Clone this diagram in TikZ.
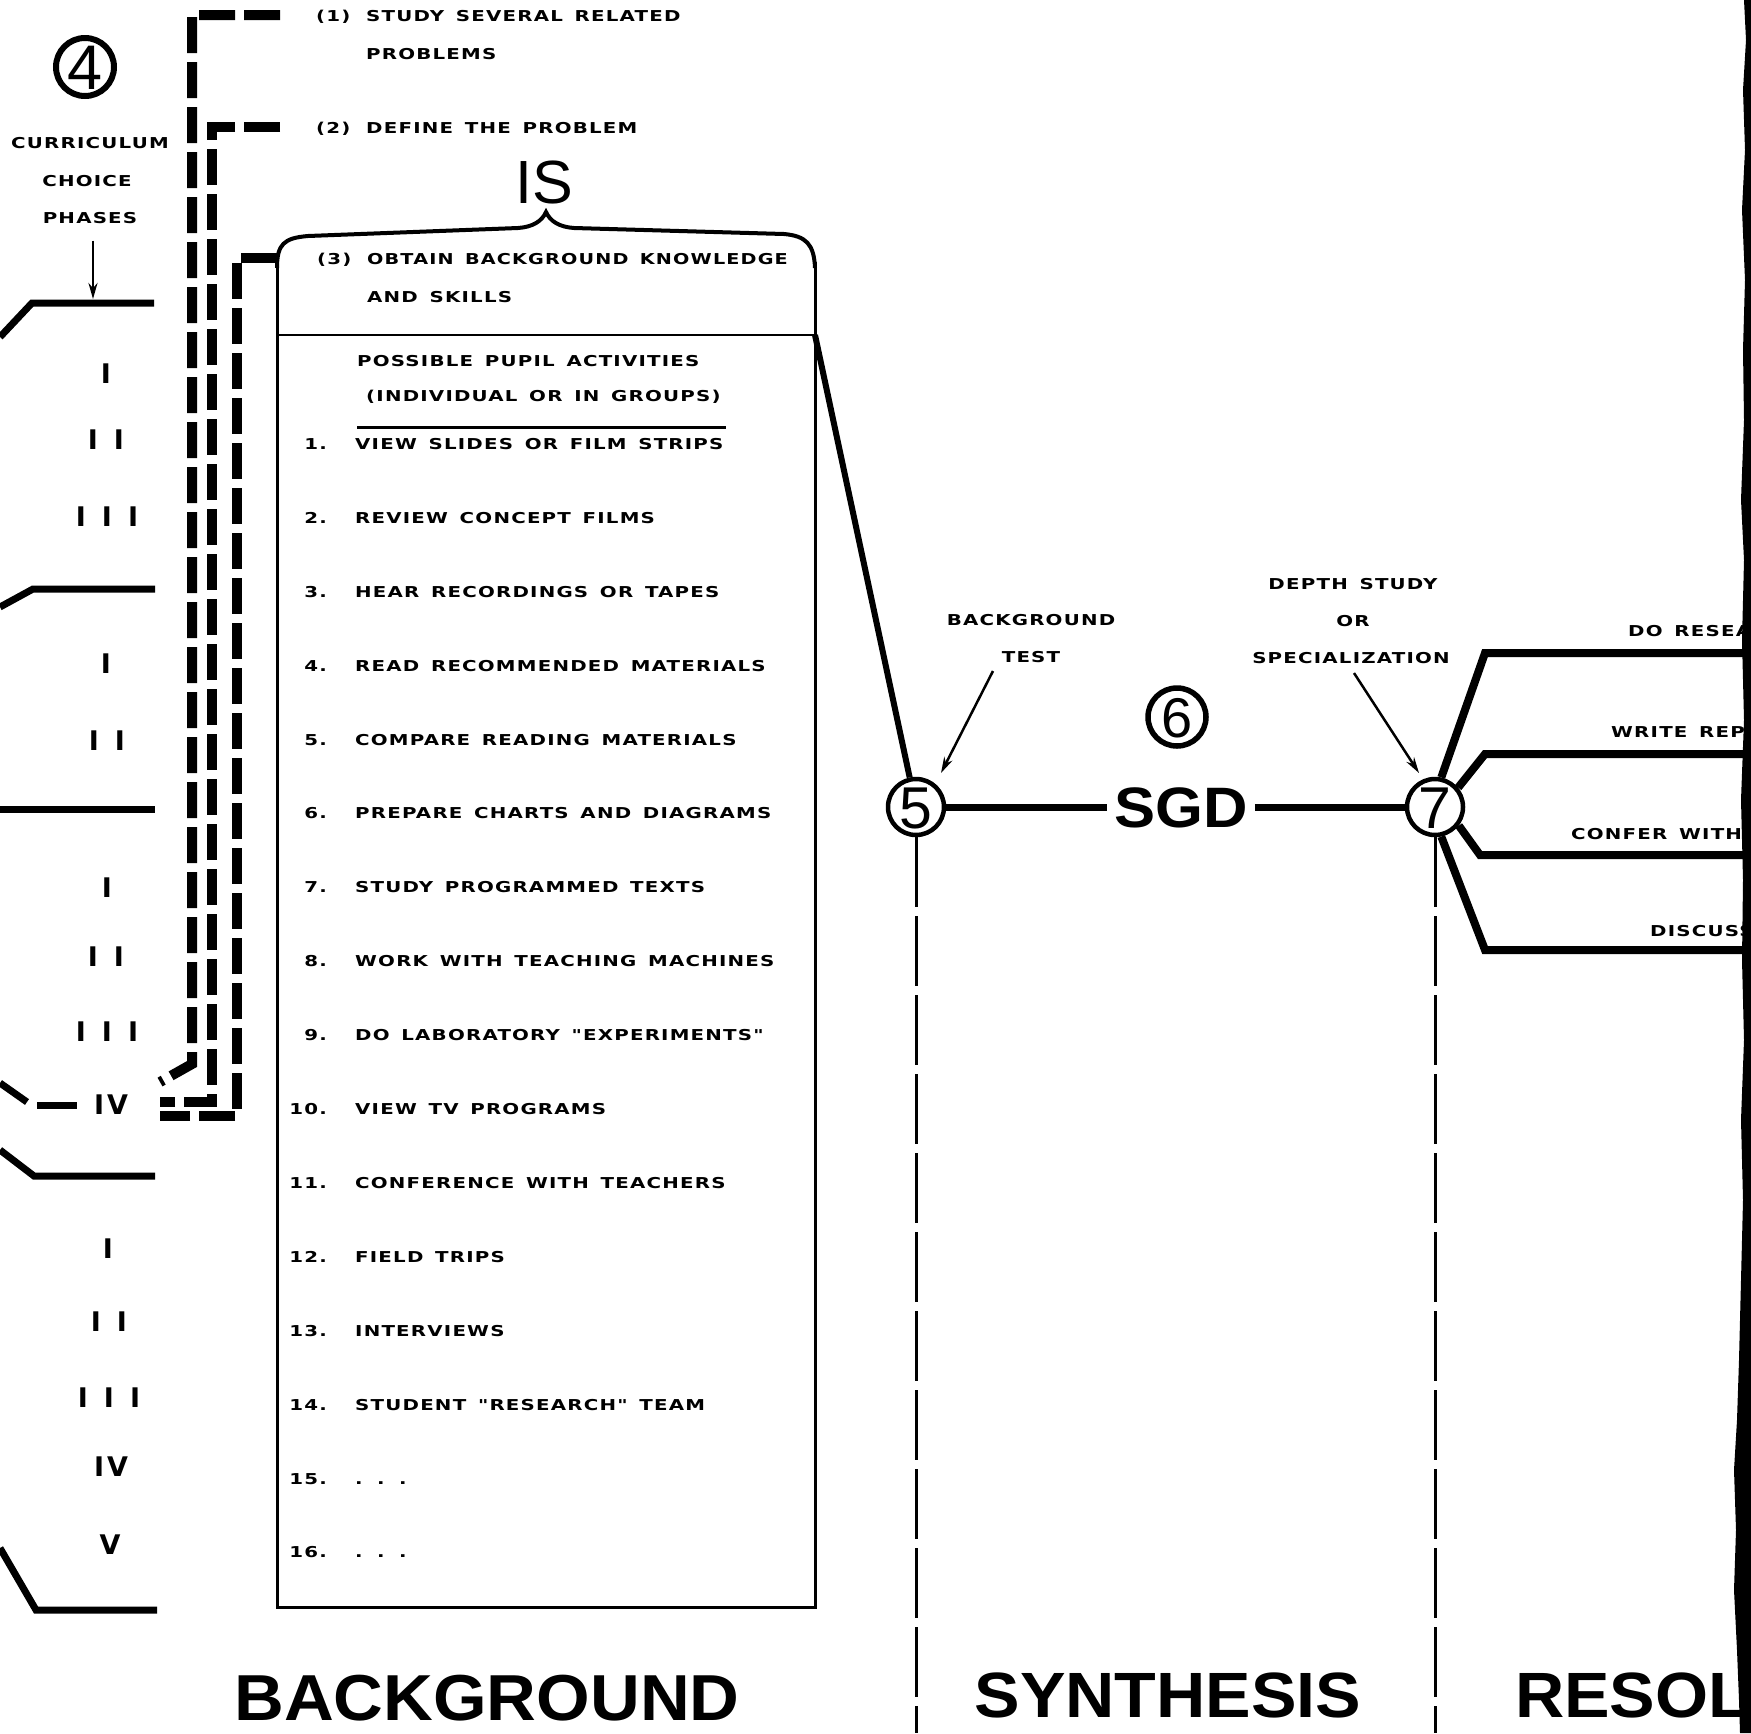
\documentclass[tikz,border=0pt]{standalone}
\usepackage{fontspec}
\usepackage{graphicx}
\usetikzlibrary{arrows.meta}
\newfontfamily\lblfont[FakeStretch=1.32,LetterSpace=8,WordSpace=1.45]{DejaVu Sans}
\newfontfamily\romfont{DejaVu Sans}
\newfontfamily\helv{Liberation Sans}
\begin{document}
\begin{tikzpicture}[x=1pt,y=-1pt,
  lbl/.style={font=\lblfont\bfseries\fontsize{15}{18}\selectfont, inner sep=0pt, text height=10.9pt, text depth=0pt},
  rom/.style={font=\romfont\bfseries\fontsize{27}{30}\selectfont, inner sep=0pt, text height=19.7pt, text depth=0pt},
  bigt/.style={font=\helv\bfseries\fontsize{65}{70}\selectfont, inner sep=0pt, text height=46.5pt, text depth=0pt},
  ring/.style={circle, draw, line width=4.5pt, inner sep=0pt, minimum size=56pt, font=\helv\fontsize{59}{62}\selectfont, text height=42pt, text depth=0pt},
  heavy/.style={line width=7pt},
  phase/.style={line width=7pt, line join=miter},
  branch/.style={line width=8pt, line join=miter},
  dashcol/.style={line width=10pt, dash pattern=on 36pt off 9pt},
  split/.style={line width=3pt, dash pattern=on 70pt off 9pt},
  pointer/.style={line width=2.5pt, -{Stealth[length=16pt,width=9pt]}},
]
\useasboundingbox (0,0) rectangle (1751,1733);
\fill[white] (0,0) rectangle (1751,1733);

% ---------- circle 4 and curriculum choice phases ----------
\node[ring, minimum size=58pt, line width=6pt, font=\helv\fontsize{63}{66}\selectfont, text height=45pt] (c4) at (85,67) {4};
\node[lbl] (cur) at (90,143) {CURRICULUM};
\node[lbl] (cho) at (87,181) {CHOICE};
\node[lbl] (pha) at (90,218) {PHASES};
\coordinate (ph1) at (93,299);
\draw[pointer] ([xshift=3pt,yshift=-17pt]pha.south) -- (ph1);

\draw[phase] (0,337) -- (32,303) -- (154,303);
\draw[phase] (0,607) -- (33,589) -- (155,589);
\draw[phase] (0,809) -- (155,809);
\draw[phase] (0,1083) -- (27,1102);
\draw[phase] (37,1105) -- (77,1105);
\draw[phase] (0,1150) -- (34,1176) -- (155,1176);
\draw[phase] (0,1548) -- (36,1610) -- (157,1610);

\node[rom] (r11) at (106,374) {I};
\node[rom] (r12) at (106,440) {I\hspace{16pt}I};
\node[rom] (r13) at (107,517) {I\hspace{16pt}I\hspace{16pt}I};
\node[rom] (r21) at (106,664) {I};
\node[rom] (r22) at (107,741) {I\hspace{16pt}I};
\node[rom] (r31) at (107,888) {I};
\node[rom] (r32) at (106,957) {I\hspace{16pt}I};
\node[rom] (r33) at (107,1032) {I\hspace{16pt}I\hspace{16pt}I};
\node[rom] (r34) at (111,1105) {I\hspace{3pt}V};
\node[rom] (r41) at (108,1249) {I};
\node[rom] (r42) at (109,1322) {I\hspace{16pt}I};
\node[rom] (r43) at (109,1398) {I\hspace{16pt}I\hspace{16pt}I};
\node[rom] (r44) at (111,1467) {I\hspace{3pt}V};
\node[rom] (r45) at (110,1545) {V};

% ---------- dashed lines from the steps to phase IV ----------
\draw[dashcol] (280,15) -- (192,15) -- (192,1064) -- (160,1082);
\draw[dashcol] (280,127) -- (212,127) -- (212,1102) -- (160,1102);
\draw[dashcol] (277,258) -- (237,258) -- (237,1116) -- (160,1116);

% ---------- steps ----------
\node[lbl, anchor=west] (p1n) at (316,16) {(1)};
\node[lbl, anchor=west] (p1) at (366,16) {STUDY SEVERAL RELATED};
\node[lbl, anchor=west] (p1b) at (366,54) {PROBLEMS};
\node[lbl, anchor=west] (p2n) at (316,128) {(2)};
\node[lbl, anchor=west] (p2) at (366,128) {DEFINE THE PROBLEM};
\node[font=\helv\fontsize{61}{64}\selectfont, inner sep=0pt, text height=43.7pt, text depth=0pt] (is) at (544,182) {IS};

% box with brace top
\draw[line width=3pt] (277,262) -- (277,1607) -- (815,1607) -- (815,262);
\draw[line width=4pt] (277,268) .. controls (277,244) and (284,238) .. (308,236) -- (518,228)
  .. controls (533,227) and (542,221) .. (546,212)
  .. controls (550,221) and (559,227) .. (574,228) -- (784,234)
  .. controls (806,236) and (814,244) .. (815,268);
\draw[line width=2.5pt] (277,335) -- (815,335);
\draw[line width=3pt] (357,427) -- (726,427);

\node[lbl, anchor=west] (p3n) at (317,259) {(3)};
\node[lbl, anchor=west] (p3) at (367,259) {\scalebox{0.97}[1]{OBTAIN BACKGROUND KNOWLEDGE}};
\node[lbl, anchor=west] (p3b) at (367,297) {AND SKILLS};
\node[lbl, anchor=west] (h1) at (357,361) {POSSIBLE PUPIL ACTIVITIES};
\node[lbl, anchor=west] (h2) at (366,396) {(INDIVIDUAL OR IN GROUPS)};

\foreach \k/\t in {1/VIEW SLIDES OR FILM STRIPS,2/REVIEW CONCEPT FILMS,3/HEAR RECORDINGS OR TAPES,
  4/READ RECOMMENDED MATERIALS,5/COMPARE READING MATERIALS,6/PREPARE CHARTS AND DIAGRAMS,
  7/STUDY PROGRAMMED TEXTS,8/WORK WITH TEACHING MACHINES,9/DO LABORATORY "EXPERIMENTS",
  10/VIEW TV PROGRAMS,11/CONFERENCE WITH TEACHERS,12/FIELD TRIPS,13/INTERVIEWS,
  14/STUDENT "RESEARCH" TEAM,15/. . .,16/. . .}{
  \node[lbl, anchor=east] (n\k) at (327,{444+(\k-1)*73.9}) {\k.};
  \node[lbl, anchor=west] (i\k) at (355,{444+(\k-1)*73.9}) {\t};
}

% ---------- synthesis ----------
\node[ring] (c5) at (916,807) {5};
\node[ring, minimum size=58pt, line width=5.5pt, font=\helv\fontsize{56}{58}\selectfont, text height=40pt] (c6) at (1177,717) {6};
\node[ring] (c7) at (1435,807) {7};
\node[font=\helv\bfseries\fontsize{57}{60}\selectfont, inner sep=0pt, inner xsep=7pt, text height=41pt, text depth=0pt] (sgd) at (1181,807) {\scalebox{1.08}[1]{SGD}};

\coordinate (boxTR) at (815,335);
\draw[line width=6pt] (boxTR) -- (c5);
\draw[heavy] (c5) -- (sgd);
\draw[heavy] (sgd) -- (c7);

\node[lbl] (bgt1) at (1031,620) {BACKGROUND};
\node[lbl] (bgt2) at (1031,657) {TEST};
\coordinate (bt0) at (993,671);
\coordinate (bt1) at (941,773);
\draw[pointer] (bt0) -- (bt1);

\node[lbl] (ds1) at (1353,584) {DEPTH STUDY};
\node[lbl] (ds2) at (1353,621) {OR};
\node[lbl] (ds3) at (1351,658) {SPECIALIZATION};
\coordinate (dq0) at (1354,673);
\coordinate (dq1) at (1419,773);
\draw[pointer] (dq0) -- (dq1);

\coordinate (d5) at (916,1733);
\coordinate (d7) at (1435,1733);
\draw[split] (c5.south) -- (d5);
\draw[split] (c7.south) -- (d7);

% ---------- resolution branches ----------
\coordinate (k1) at (1485,653); \coordinate (e1) at (1751,653);
\coordinate (k2) at (1485,754); \coordinate (e2) at (1751,754);
\coordinate (k3) at (1480,855); \coordinate (e3) at (1751,855);
\coordinate (k4) at (1485,950); \coordinate (e4) at (1751,950);
\draw[branch] (c7.78) -- (k1) -- (e1);
\draw[branch] (c7.40) -- (k2) -- (e2);
\draw[branch] (c7.-38) -- (k3) -- (e3);
\draw[branch] (c7.-78) -- (k4) -- (e4);
\node[lbl, anchor=west] (rb1) at (1628,631) {DO RESEA};
\node[lbl, anchor=west] (rb2) at (1611,732) {WRITE REP};
\node[lbl, anchor=west] (rb3) at (1571,834) {CONFER WITH};
\node[lbl, anchor=west] (rb4) at (1650,931) {DISCUSS};

% ---------- bottom titles ----------
\node[bigt] (tb) at (487,1697) {\scalebox{1.06}[1]{BACKGROUND}};
\node[bigt, font=\helv\bfseries\fontsize{64}{68}\selectfont, text height=46pt] (ts) at (1168,1694) {\scalebox{1.066}[1]{SYNTHESIS}};
\node[bigt, anchor=west, font=\helv\bfseries\fontsize{64}{68}\selectfont, text height=46pt] (tr) at (1515,1694) {\scalebox{1.066}[1]{RESOL}};

% ---------- torn right edge ----------
\fill[black] (1751,0) -- (1744,0) -- (1746,40) -- (1743,90) -- (1745,150) -- (1742,210) -- (1745,280)
  -- (1743,350) -- (1744,420) -- (1741,500) -- (1744,560) -- (1742,640) -- (1744,720) -- (1741,800)
  -- (1743,880) -- (1742,960) -- (1744,1040) -- (1741,1120) -- (1743,1200) -- (1741,1280)
  -- (1739,1360) -- (1737,1420) -- (1734,1470) -- (1736,1530) -- (1734,1590) -- (1737,1650)
  -- (1739,1700) -- (1740,1733) -- (1751,1733) -- cycle;
\end{tikzpicture}
\end{document}
